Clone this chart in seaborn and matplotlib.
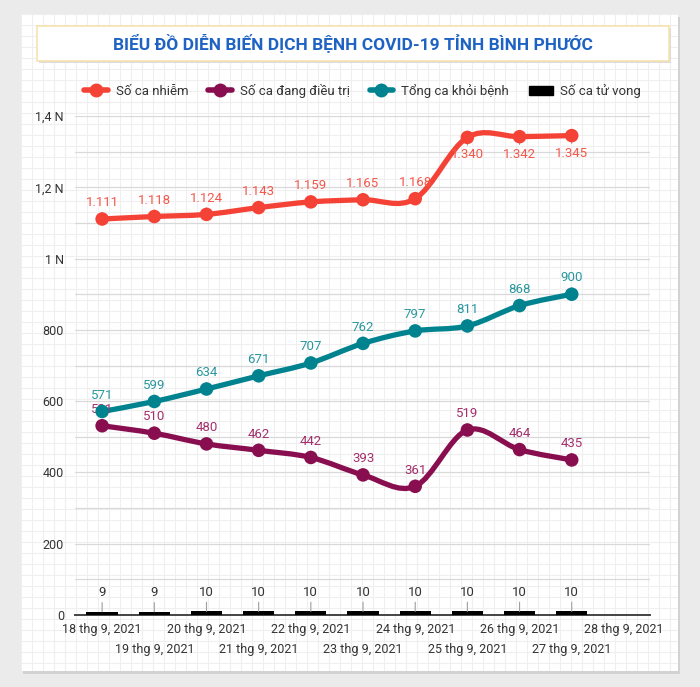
import numpy as np
import pandas as pd
import matplotlib.pyplot as plt
import matplotlib.dates as mdates
import seaborn as sns
from matplotlib.path import Path
from matplotlib.patches import PathPatch, Rectangle, Patch
from matplotlib.lines import Line2D
from matplotlib.ticker import MultipleLocator, FuncFormatter, FixedLocator, FixedFormatter

# Data
dates = ['2021-09-18', '2021-09-19', '2021-09-20', '2021-09-21', '2021-09-22',
         '2021-09-23', '2021-09-24', '2021-09-25', '2021-09-26', '2021-09-27']
infected = [1111, 1118, 1124, 1143, 1159, 1165, 1168, 1340, 1342, 1345]
treating = [531, 510, 480, 462, 442, 393, 361, 519, 464, 435]
recovered = [571, 599, 634, 671, 707, 762, 797, 811, 868, 900]
deaths = [9, 9, 10, 10, 10, 10, 10, 10, 10, 10]

series_names = ['Số ca nhiễm', 'Số ca đang điều trị', 'Tổng ca khỏi bệnh', 'Số ca tử vong']
line_colors = ['#f44336', '#880e4f', '#00838f']
label_colors = ['#f4574b', '#a3306d', '#2a979f']

tick_dates = ['2021-09-18', '2021-09-19', '2021-09-20', '2021-09-21', '2021-09-22', '2021-09-23',
              '2021-09-24', '2021-09-25', '2021-09-26', '2021-09-27', '2021-09-28']
tick_labels = ['18 thg 9, 2021', '19 thg 9, 2021', '20 thg 9, 2021', '21 thg 9, 2021',
               '22 thg 9, 2021', '23 thg 9, 2021', '24 thg 9, 2021', '25 thg 9, 2021',
               '26 thg 9, 2021', '27 thg 9, 2021', '28 thg 9, 2021']

title = 'BIỂU ĐỒ DIỄN BIẾN DỊCH BỆNH COVID-19 TỈNH BÌNH PHƯỚC'

sns.set_style('white')
plt.rcParams['font.family'] = ['Roboto', 'DejaVu Sans']

xs = mdates.date2num(pd.to_datetime(dates))
tick_x = mdates.date2num(pd.to_datetime(tick_dates))

df = pd.DataFrame({'x': xs, series_names[0]: infected, series_names[1]: treating,
                   series_names[2]: recovered})
long_df = df.melt(id_vars='x', var_name='series', value_name='value')


def smooth_path(x, y):
    # cardinal spline through the points, like the original dashboard
    px = np.r_[x[0], x, x[-1]]
    py = np.r_[y[0], y, y[-1]]
    verts = [(x[0], y[0])]
    codes = [Path.MOVETO]
    for i in range(len(x) - 1):
        p0 = np.array([px[i], py[i]])
        p1 = np.array([px[i + 1], py[i + 1]])
        p2 = np.array([px[i + 2], py[i + 2]])
        p3 = np.array([px[i + 3], py[i + 3]])
        c1 = p1 + (p2 - p0) / 6
        c2 = p2 - (p3 - p1) / 6
        verts += [tuple(c1), tuple(c2), tuple(p2)]
        codes += [Path.CURVE4] * 3
    return Path(verts, codes)


fig = plt.figure(figsize=(7, 6.87), dpi=100, facecolor='#ebebeb')
W, H = 700, 687

# panel with shadow + graph paper
fig.patches.append(Rectangle((23 / W, 13 / H), 657 / W, 657 / H, transform=fig.transFigure,
                             facecolor='#d2d2d2', edgecolor='none', zorder=-5))
bg = fig.add_axes([21 / W, 16 / H, 657 / W, 657 / H])
bg.set_zorder(-2)
bg.set_facecolor('white')
bg.set_xlim(0, 657)
bg.set_ylim(657, 0)
bg.set_xticks(np.arange(0, 657, 11))
bg.set_yticks(np.arange(0, 657, 11))
bg.grid(True, color='#efefef', lw=0.8)
bg.tick_params(length=0, labelbottom=False, labelleft=False)
for s in bg.spines.values():
    s.set_visible(False)

# title box
fig.patches.append(Rectangle((39 / W, (687 - 63) / H), 632 / W, 35 / H, transform=fig.transFigure,
                             facecolor='#dcdcdc', edgecolor='none', zorder=0.5))
fig.patches.append(Rectangle((37 / W, (687 - 61) / H), 632 / W, 35 / H, transform=fig.transFigure,
                             facecolor='white', edgecolor='#f6e3ad', lw=1.2, zorder=1))
fig.text(353 / W, 1 - 43.5 / H, title, ha='center', va='center', color='#1e63c4',
         fontsize=12.5, fontweight='bold', family=['Liberation Sans Narrow', 'Roboto', 'DejaVu Sans'],
         zorder=3)

ax = fig.add_axes([75 / W, 72 / H, 575 / W, 499 / H])
ax.set_zorder(2)
ax.patch.set_alpha(0)

# deaths as bars
sns.barplot(x=xs, y=deaths, native_scale=True, width=0.6, color='black', ax=ax,
            zorder=3, linewidth=0)

# smooth lines + markers
for vals, c in zip([infected, treating, recovered], line_colors):
    ax.add_patch(PathPatch(smooth_path(xs, np.array(vals, float)), facecolor='none',
                           edgecolor=c, lw=3.8, capstyle='round', joinstyle='round', zorder=4))
sns.scatterplot(data=long_df, x='x', y='value', hue='series', palette=line_colors,
                s=95, linewidth=0, legend=False, ax=ax, zorder=6)

leader = dict(arrowstyle='-', color='#9e9e9e', lw=0.8, shrinkA=0, shrinkB=0)


def fmt_num(v):
    return f'{v:,}'.replace(',', '.')


for i, (x, v) in enumerate(zip(xs, infected)):
    below = i >= 7
    ax.annotate(fmt_num(v), xy=(x, v), xytext=(0, -8 if below else 7), textcoords='offset points',
                ha='center', va='top' if below else 'bottom', color=label_colors[0],
                fontsize=9.5, arrowprops=leader, zorder=5)
for vals, lc in [(treating, label_colors[1]), (recovered, label_colors[2])]:
    for x, v in zip(xs, vals):
        ax.annotate(fmt_num(v), xy=(x, v), xytext=(0, 7), textcoords='offset points',
                    ha='center', va='bottom', color=lc, fontsize=9.5, arrowprops=leader, zorder=5)
for x, v in zip(xs, deaths):
    ax.annotate(str(v), xy=(x, v), xytext=(0, 9), textcoords='offset points',
                ha='center', va='bottom', color='#333333', fontsize=9.5, arrowprops=leader, zorder=5)

# axes styling
ax.set_xlim(tick_x[0] - 0.52, tick_x[-1] + 0.5)
ax.set_ylim(0, 1400)
ax.yaxis.set_major_locator(MultipleLocator(200))
ax.yaxis.set_minor_locator(MultipleLocator(100))


def y_fmt(v, pos):
    if v >= 1000:
        return f'{v / 1000:g}'.replace('.', ',') + ' N'
    return f'{int(v)}'


ax.yaxis.set_major_formatter(FuncFormatter(y_fmt))
ax.grid(True, axis='y', which='both', color='#d9d9d9', lw=0.9)
ax.grid(False, axis='x', which='both')
ax.set_axisbelow(True)

# staggered date labels: even dates on the first row, odd dates on the second
ax.xaxis.set_major_locator(FixedLocator(tick_x[0::2]))
ax.xaxis.set_major_formatter(FixedFormatter(tick_labels[0::2]))
ax.xaxis.set_minor_locator(FixedLocator(tick_x[1::2]))
ax.xaxis.set_minor_formatter(FixedFormatter(tick_labels[1::2]))
ax.tick_params(axis='both', which='both', length=0, labelsize=9, labelcolor='#333333')
ax.tick_params(axis='y', pad=8)
ax.tick_params(axis='x', which='major', pad=6)
ax.tick_params(axis='x', which='minor', pad=20)
ax.set_xlabel('')
ax.set_ylabel('')
for s in ['top', 'right', 'left']:
    ax.spines[s].set_visible(False)
ax.spines['bottom'].set_color('#444444')
ax.spines['bottom'].set_linewidth(1.4)
ax.spines['bottom'].set_zorder(2)

# legend
handles = [Line2D([], [], color=c, lw=4, marker='o', markersize=9) for c in line_colors]
handles.append(Patch(facecolor='black', edgecolor='black'))
fig.legend(handles, series_names, loc='center', bbox_to_anchor=(0.518, 1 - 91 / H), ncol=4,
           frameon=False, fontsize=9.5, handlelength=1.8, columnspacing=1.5, handletextpad=0.6,
           labelcolor='#333333')

fig.savefig('out.png', dpi=100, facecolor=fig.get_facecolor())
